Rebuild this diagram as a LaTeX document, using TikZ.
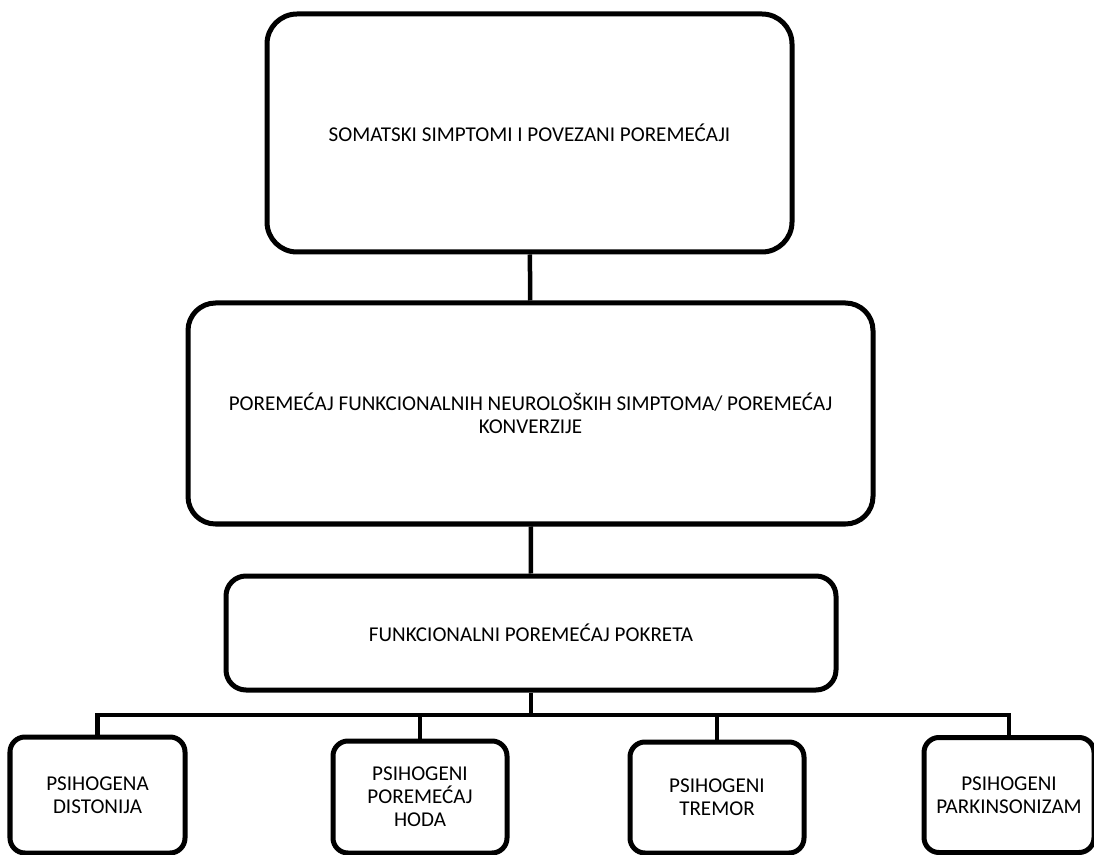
\documentclass[tikz,border=0pt]{standalone}
\usepackage{fontspec}
\setmainfont{Carlito}
\usetikzlibrary{positioning}

\begin{document}
\begin{tikzpicture}
            \useasboundingbox (0,0) rectangle (21.88,-17.1);
            \begin{scope}[every node/.style={rectangle,draw,line width=0.1cm,align=center,
                          font=\fontsize{12pt}{13pt}\selectfont,inner sep=0pt}]
                \node (SOM) [minimum width=10.5cm, minimum height=4.76cm, rounded corners=0.6cm] at (10.59, -2.66) {SOMATSKI SIMPTOMI I POVEZANI POREMEĆAJI};
                \node (FNS) [minimum width=13.7cm, minimum height=4.42cm, rounded corners=0.55cm] at (10.61, -8.27) {POREMEĆAJ FUNKCIONALNIH NEUROLOŠKIH SIMPTOMA/ POREMEĆAJ\\KONVERZIJE};
                \node (FPP) [minimum width=12.2cm, minimum height=2.28cm, rounded corners=0.4cm] at (10.62, -12.66) {FUNKCIONALNI POREMEĆAJ POKRETA};
                \node (PD) [minimum width=3.5cm, minimum height=2.32cm, rounded corners=0.3cm] at (1.95, -15.9) {PSIHOGENA\\DISTONIJA};
                \node (PH) [minimum width=3.48cm, minimum height=2.24cm, rounded corners=0.3cm] at (8.4, -15.94) {PSIHOGENI\\POREMEĆAJ\\HODA};
                \node (PT) [minimum width=3.48cm, minimum height=2.22cm, rounded corners=0.3cm] at (14.34, -15.95) {PSIHOGENI\\TREMOR};
                \node (PP) [minimum width=3.4cm, minimum height=2.3cm, rounded corners=0.3cm] at (20.18, -15.9) {PSIHOGENI\\PARKINSONIZAM};
            \end{scope}

            \coordinate (bus) at (0, -14.3);

            \begin{scope}[every path/.style={draw=black,line width=0.09cm}]
                \path (SOM) -- (FNS);
                \path (FNS) -- (FPP);
                \path (FPP.south) -- (FPP.south |- bus);
                \path (PD.north) -- (PD.north |- bus) -- (PP.north |- bus) -- (PP.north);
                \path (PH.north) -- (PH.north |- bus);
                \path (PT.north) -- (PT.north |- bus);
            \end{scope}
        \end{tikzpicture}
\end{document}
